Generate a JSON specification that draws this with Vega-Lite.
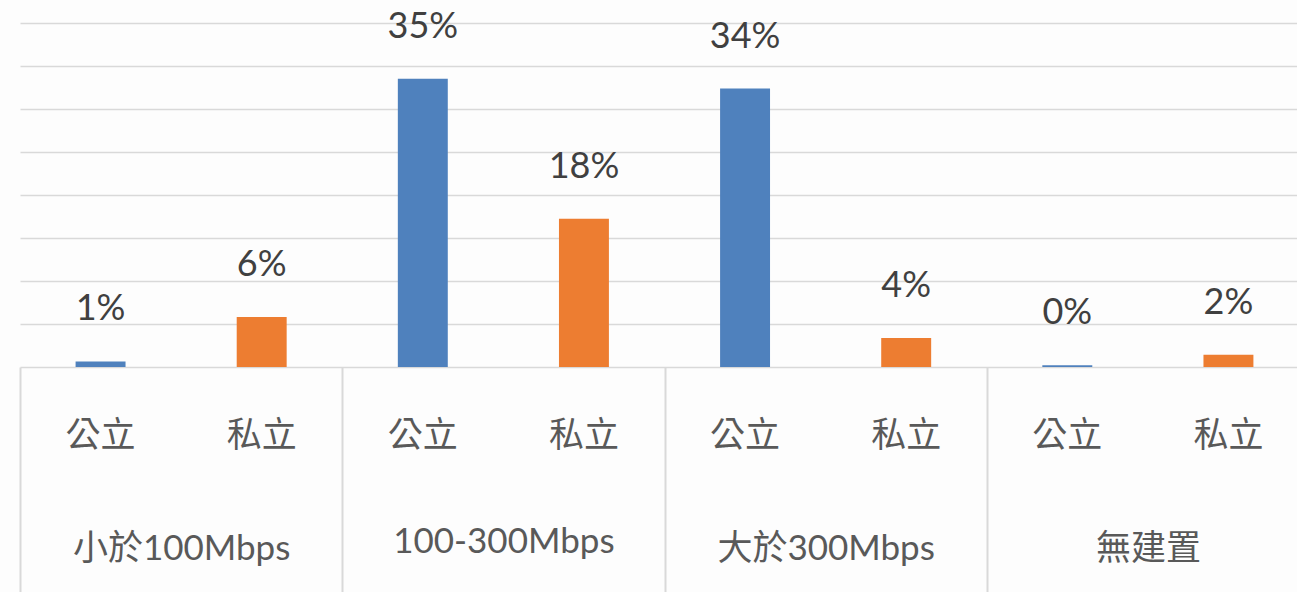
{
  "$schema": "https://vega.github.io/schema/vega-lite/v6.json",
  "width": 1289,
  "height": 344,
  "autosize": "none",
  "padding": {"left": 20, "top": 23, "right": 0, "bottom": 225},
  "background": "#fdfdfd",
  "config": {"view": {"stroke": null}},
  "data": {
    "values": [
      {"group": "小於100Mbps", "type": "公立", "key": "小於100Mbps|公立", "value": 0.68, "label": "1%"},
      {"group": "小於100Mbps", "type": "私立", "key": "小於100Mbps|私立", "value": 6.1, "label": "6%"},
      {"group": "100-300Mbps", "type": "公立", "key": "100-300Mbps|公立", "value": 35.2, "label": "35%"},
      {"group": "100-300Mbps", "type": "私立", "key": "100-300Mbps|私立", "value": 18.1, "label": "18%"},
      {"group": "大於300Mbps", "type": "公立", "key": "大於300Mbps|公立", "value": 34.0, "label": "34%"},
      {"group": "大於300Mbps", "type": "私立", "key": "大於300Mbps|私立", "value": 3.55, "label": "4%"},
      {"group": "無建置", "type": "公立", "key": "無建置|公立", "value": 0.2, "label": "0%"},
      {"group": "無建置", "type": "私立", "key": "無建置|私立", "value": 1.5, "label": "2%"}
    ]
  },
  "layer": [
    {
      "layer": [
        {
          "mark": {"type": "bar"},
          "encoding": {
            "x": {
              "field": "key",
              "type": "nominal",
              "sort": ["小於100Mbps|公立", "小於100Mbps|私立", "100-300Mbps|公立", "100-300Mbps|私立", "大於300Mbps|公立", "大於300Mbps|私立", "無建置|公立", "無建置|私立"],
              "scale": {"type": "band", "paddingInner": 0.69, "paddingOuter": 0.345},
              "axis": {
                "orient": "bottom",
                "title": null,
                "domain": false,
                "ticks": false,
                "tickSize": 0,
                "grid": false,
                "labelAngle": 0,
                "labelExpr": "split(datum.label, '|')[1]",
                "labelFont": "Noto Sans CJK TC",
                "labelFontSize": 35,
                "labelColor": "#595959",
                "labelBaseline": "alphabetic",
                "labelPadding": 79
              }
            },
            "y": {
              "field": "value",
              "type": "quantitative",
              "scale": {"domain": [0, 42], "nice": false, "zero": true},
              "axis": {
                "title": null,
                "labels": false,
                "ticks": false,
                "domain": false,
                "grid": true,
                "gridColor": "#d9d9d9",
                "gridWidth": 1.5,
                "values": [0, 5.25, 10.5, 15.75, 21, 26.25, 31.5, 36.75, 42]
              }
            },
            "color": {
              "field": "type",
              "type": "nominal",
              "scale": {"domain": ["公立", "私立"], "range": ["#4F81BD", "#ED7D31"]},
              "legend": null
            }
          }
        },
        {
          "mark": {"type": "text", "font": "Lato", "fontSize": 36, "color": "#404040", "baseline": "alphabetic", "dy": -41},
          "encoding": {
            "x": {
              "field": "key",
              "type": "nominal",
              "sort": ["小於100Mbps|公立", "小於100Mbps|私立", "100-300Mbps|公立", "100-300Mbps|私立", "大於300Mbps|公立", "大於300Mbps|私立", "無建置|公立", "無建置|私立"]
            },
            "y": {"field": "value", "type": "quantitative"},
            "text": {"field": "label"}
          }
        }
      ]
    },
    {
      "mark": {"type": "bar", "opacity": 0},
      "encoding": {
        "x": {
          "field": "group",
          "type": "nominal",
          "sort": ["小於100Mbps", "100-300Mbps", "大於300Mbps", "無建置"],
          "scale": {"type": "band", "paddingInner": 0, "paddingOuter": 0},
          "axis": {
            "orient": "bottom",
            "title": null,
            "domain": false,
            "grid": false,
            "ticks": true,
            "tickSize": 225,
            "tickBand": "extent",
            "tickColor": "#d9d9d9",
            "tickWidth": 2,
            "labelAngle": 0,
            "labelFont": "Lato, Noto Sans CJK TC",
            "labelFontSize": 35,
            "labelColor": "#595959",
            "labelBaseline": "alphabetic",
            "labelPadding": {"condition": {"test": "datum.value === '100-300Mbps'", "value": -40}, "value": -33},
            "labelLimit": 0
          }
        }
      }
    }
  ],
  "resolve": {"scale": {"x": "independent"}, "axis": {"x": "independent"}}
}
